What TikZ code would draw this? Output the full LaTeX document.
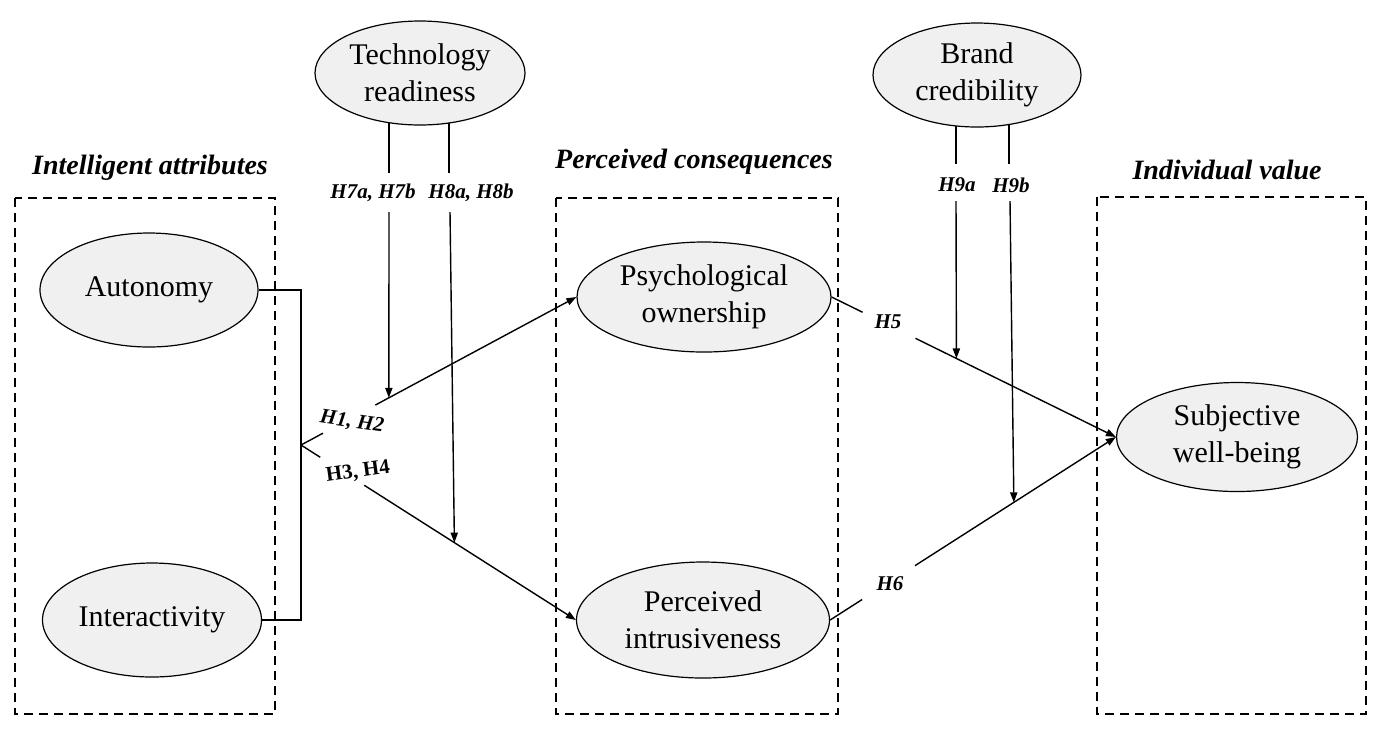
\documentclass[tikz,border=0pt]{standalone}
\usepackage{fontspec}
\setmainfont{Liberation Serif}
\usetikzlibrary{arrows.meta,shapes.geometric,backgrounds,calc}
\definecolor{ellfill}{RGB}{240,240,240}
\begin{document}
\begin{tikzpicture}[x=0.5pt,y=-0.5pt,
  construct/.style={ellipse,draw,line width=0.6pt,fill=ellfill,align=center,inner sep=0pt,
    font=\fontsize{15}{18.5}\selectfont},
  groupbox/.style={draw,line width=1.3pt,dash pattern=on 4.5pt off 3pt},
  title/.style={font=\fontsize{14}{16}\selectfont\bfseries\itshape,inner sep=0pt},
  hyp/.style={font=\fontsize{10.5}{12}\selectfont\bfseries\itshape,inner sep=0pt},
  hypup/.style={font=\fontsize{10.5}{12}\selectfont\bfseries,inner sep=0pt},
  link/.style={line width=0.7pt},
  arr/.style={link,-{Triangle[length=5pt,width=3.6pt]}},
]
\useasboundingbox (0,0) rectangle (1390,736);

% group boxes
\draw[groupbox] (15,198) rectangle (275,714);
\draw[groupbox] (556,198) rectangle (838,714);
\draw[groupbox] (1097,197) rectangle (1366,714);

% titles
\node[title] (t1) at (150,168) {Intelligent attributes};
\node[title] (t2) at (694,162) {Perceived consequences};
\node[title] (t3) at (1227,170) {Individual value};

% constructs
\node[construct,minimum width=109pt,minimum height=57pt] (auto) at (149,290) {Autonomy};
\node[construct,minimum width=109.5pt,minimum height=57pt] (inter) at (152,620) {Interactivity};
\node[construct,minimum width=105pt,minimum height=52pt] (tech) at (420,73) {Technology\\readiness};
\node[construct,minimum width=104pt,minimum height=52pt] (brand) at (977,75) {Brand\\credibility};
\node[construct,minimum width=127pt,minimum height=55pt] (psych) at (704,297) {Psychological\\ownership};
\node[construct,minimum width=126.5pt,minimum height=58pt] (intru) at (703,620) {Perceived\\intrusiveness};
\node[construct,minimum width=120.5pt,minimum height=54.5pt] (swb) at (1237,437) {Subjective\\well-being};

% hypothesis labels
\node[hyp] (l7) at (373,193) {H7a, H7b};
\node[hyp] (l8) at (471,193) {H8a, H8b};
\node[hyp] (l9a) at (957,185) {H9a};
\node[hyp] (l9b) at (1011,185) {H9b};
\node[hyp,rotate=-8] (l12) at (352,422) {H1, H2};
\node[hypup,rotate=8] (l34) at (358,472) {H3, H4};
\node[hyp] (l5) at (888,322) {H5};
\node[hyp] (l6) at (890,584) {H6};

\begin{scope}[on background layer]
  \coordinate (J) at (301,445);
  \draw[link] (auto.east) -| (J) |- (inter.east);

  % H1,H2 and H3,H4
  \path (J) -- (psych.west) coordinate[pos=0.08] (h1a) coordinate[pos=0.27] (h1b) coordinate[pos=0.319] (m1);
  \draw[link] (J) -- (h1a);
  \draw[arr] (h1b) -- (psych.west);
  \path (J) -- (intru.west) coordinate[pos=0.07] (h3a) coordinate[pos=0.23] (h3b) coordinate[pos=0.558] (m2);
  \draw[link] (J) -- (h3a);
  \draw[arr] (h3b) -- (intru.west);

  % H5, H6
  \path (psych.east) -- (swb.west) coordinate[pos=0.109] (h5a) coordinate[pos=0.295] (h5b) coordinate[pos=0.439] (m3);
  \draw[link] (psych.east) -- (h5a);
  \draw[arr] (h5b) -- (swb.west);
  \path (intru.east) -- (swb.west) coordinate[pos=0.112] (h6a) coordinate[pos=0.297] (h6b) coordinate[pos=0.643] (m4);
  \draw[link] (intru.east) -- (h6a);
  \draw[arr] (h6b) -- (swb.west);

  % moderators: technology readiness
  \coordinate (g7t) at (389,173); \coordinate (g7b) at (389,212);
  \draw[link] (tech.center -| g7t) -- (g7t);
  \draw[arr] (g7b) -- (m1);
  \coordinate (g8t) at (449,173); \coordinate (g8b) at (450,212);
  \draw[link] (tech.center -| g8t) -- (g8t);
  \draw[arr] (g8b) -- (m2);

  % moderators: brand credibility
  \coordinate (g9at) at (956,164); \coordinate (g9ab) at (956,201);
  \draw[link] (brand.center -| g9at) -- (g9at);
  \draw[arr] (g9ab) -- (m3);
  \coordinate (g9bt) at (1009,164); \coordinate (g9bb) at (1010,201);
  \draw[link] (brand.center -| g9bt) -- (g9bt);
  \draw[arr] (g9bb) -- (m4);
\end{scope}
\end{tikzpicture}
\end{document}
